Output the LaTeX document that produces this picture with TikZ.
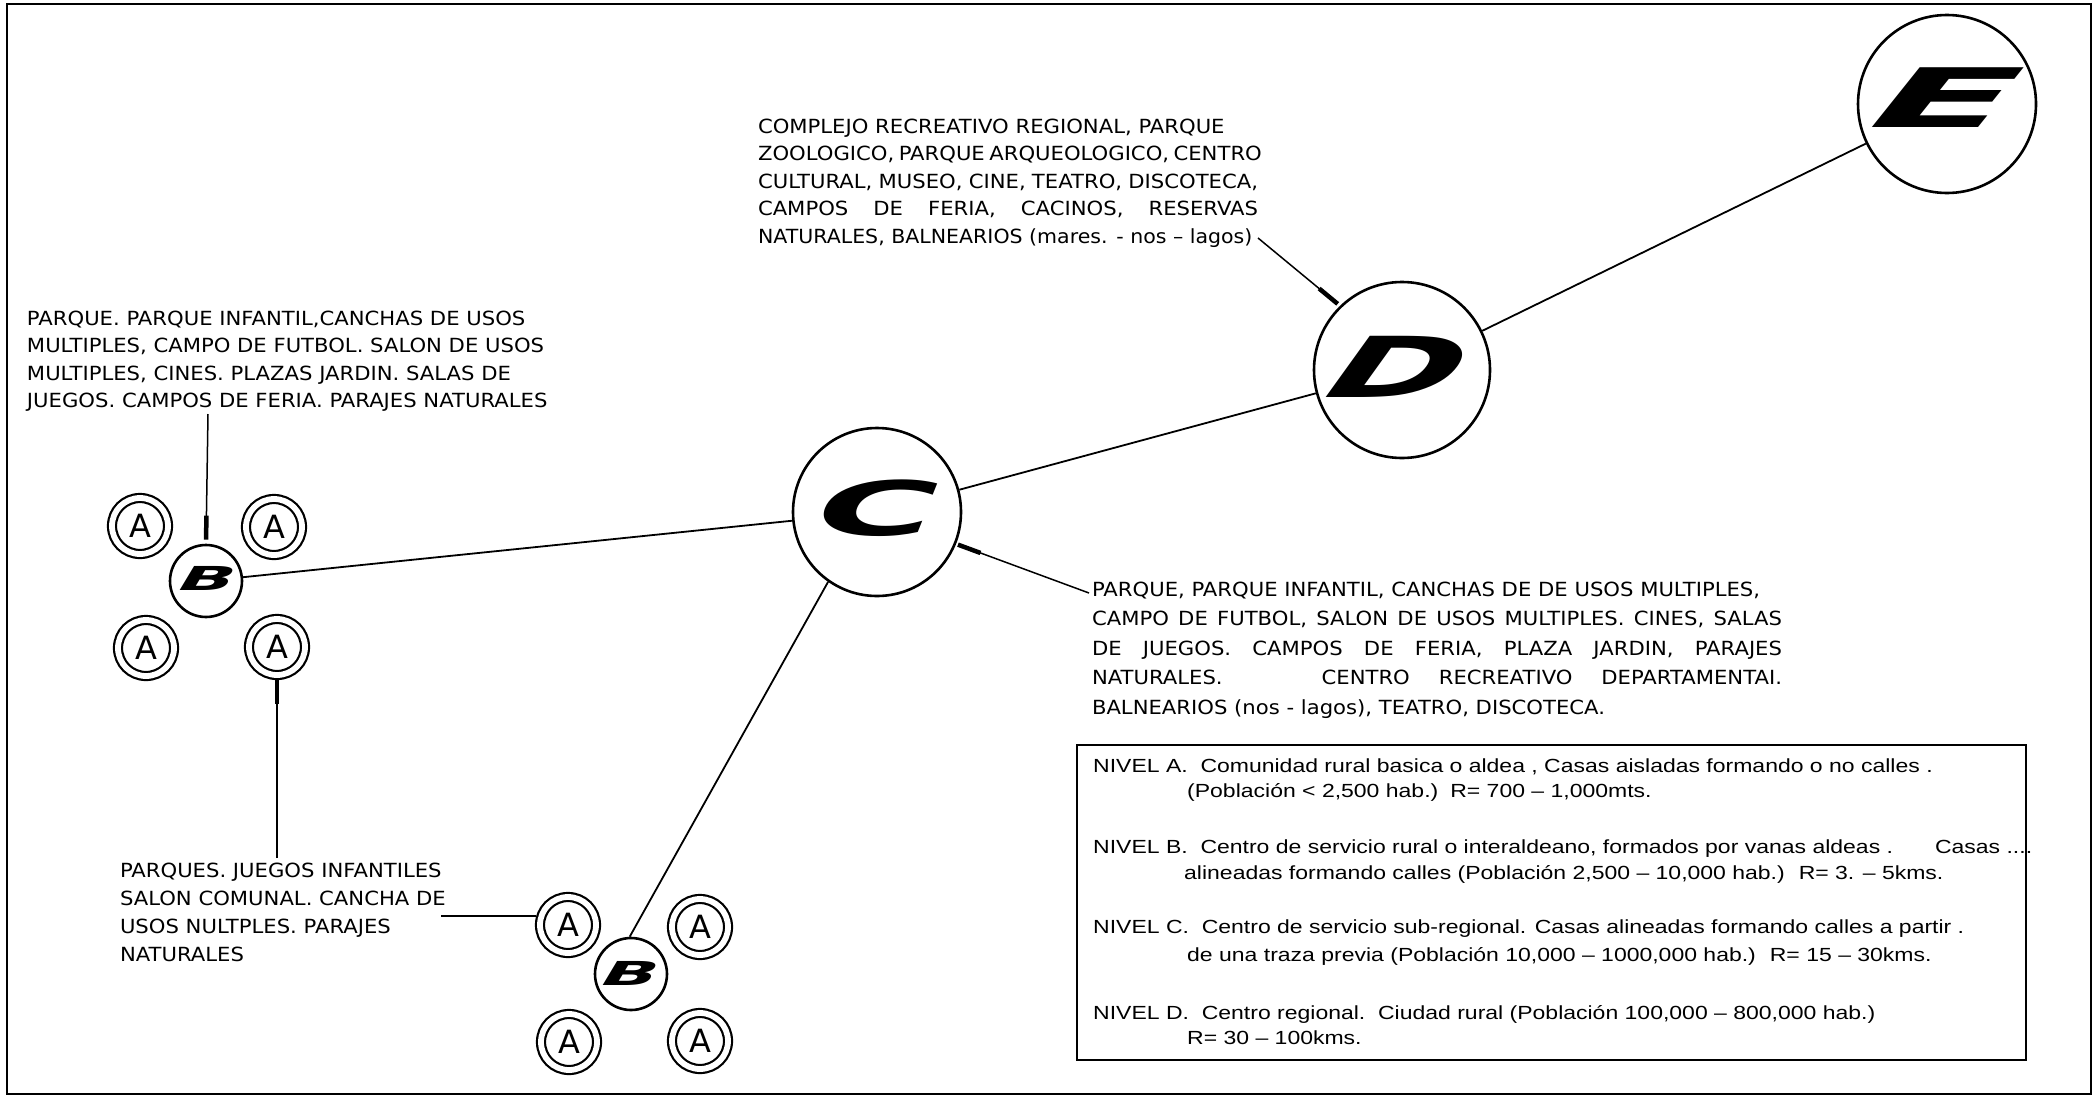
\documentclass[tikz,border=0pt]{standalone}
\usepackage{fontspec}
\setmainfont[FakeStretch=1.085]{DejaVu Sans}
\newfontfamily\legendfont[FakeStretch=1.21]{Liberation Sans}
\newfontfamily\letterfont{DejaVu Sans}
\newfontfamily\afont{DejaVu Sans}
\usetikzlibrary{arrows.meta}
\begin{document}
\begin{tikzpicture}[x=1pt,y=-1pt,
  capsnote/.style={font=\fontsize{19.5}{27.5}\selectfont, anchor=north west, inner sep=0pt, outer sep=0pt},
  hub/.style={circle, draw, line width=2.6pt, inner sep=0pt},
  bigletter/.style={inner sep=0pt, font=\letterfont\bfseries\fontsize{#1}{#1}\selectfont},
  acirc/.style={circle, draw, line width=2.2pt, double distance=5.8pt, minimum size=56pt, inner sep=0pt, outer sep=5pt, font=\afont\fontsize{32}{32}\selectfont},
  link/.style={line width=1.8pt},
  leader/.style={line width=1.5pt, -{Rectangle[length=24pt,width=4.5pt]}},
  legendline/.style={font=\legendfont\fontsize{19}{22}\selectfont, anchor=base west, inner sep=0pt},
]
\useasboundingbox (0,0) rectangle (2096,1098);
\draw[line width=2pt] (7,4) rectangle (2091,1094);

% hubs
\node[hub, minimum size=168pt] (C) at (877,512) {};
\node[hub, minimum size=176pt] (D) at (1402,370) {};
\node[hub, minimum size=178pt] (E) at (1947,104) {};
\node[hub, minimum size=72pt] (B1) at (206,581) {};
\node[hub, minimum size=72pt] (B2) at (631,974) {};

\node[bigletter=75, xslant=0.4, xscale=2.2] (Cl) at (878,508) {C};
\node[bigletter=84, xslant=0.72, xscale=1.9] (Dl) at (1400,367) {D};
\node[bigletter=82, xslant=0.8, xscale=2.5] (El) at (1947,98) {E};
\node[bigletter=33, xslant=0.6, xscale=2.2] (B1l) at (208,578) {B};
\node[bigletter=33, xslant=0.6, xscale=2.2] (B2l) at (631,973) {B};

% A circles
\node[acirc] (A1) at (140,526) {A};
\node[acirc] (A2) at (274,527) {A};
\node[acirc] (A3) at (146,648) {A};
\node[acirc] (A4) at (277,647) {A};
\node[acirc] (A5) at (568,925) {A};
\node[acirc] (A6) at (700,927) {A};
\node[acirc] (A7) at (569,1042) {A};
\node[acirc] (A8) at (700,1041) {A};

% links
\draw[link] (B1) -- (C);
\draw[link] (B2.92) -- (C.235);
\draw[link] (C) -- (D);
\draw[link] (D) -- (E);

% notes
\node[capsnote, align=left] (tD) at (758,119)
 {COMPLEJO RECREATIVO REGIONAL, PARQUE\\
  \makebox[500pt][s]{ZOOLOGICO, PARQUE ARQUEOLOGICO, CENTRO}\\
  \makebox[500pt][s]{CULTURAL, MUSEO, CINE, TEATRO, DISCOTECA,}\\
  \makebox[500pt][s]{CAMPOS DE FERIA, CACINOS, RESERVAS}\\
  \scalebox{0.97}[1]{NATURALES, BALNEARIOS (mares. - nos – lagos)}};

\node[capsnote, align=left] (tB) at (27,311)
 {PARQUE. PARQUE INFANTIL,CANCHAS DE USOS\\
  MULTIPLES, CAMPO DE FUTBOL. SALON DE USOS\\
  MULTIPLES, CINES. PLAZAS JARDIN. SALAS DE\\
  JUEGOS. CAMPOS DE FERIA. PARAJES NATURALES};

\node[capsnote, align=left, font=\fontsize{19.5}{29.5}\selectfont] (tC) at (1092,582)
 {PARQUE, PARQUE INFANTIL, CANCHAS DE DE USOS MULTIPLES,\\
  \makebox[690pt][s]{CAMPO DE FUTBOL, SALON DE USOS MULTIPLES. CINES, SALAS}\\
  \makebox[690pt][s]{DE JUEGOS. CAMPOS DE FERIA, PLAZA JARDIN, PARAJES}\\
  \makebox[690pt][s]{NATURALES.\hspace{70pt} CENTRO RECREATIVO DEPARTAMENTAI.}\\
  BALNEARIOS (nos - lagos), TEATRO, DISCOTECA.};

\node[capsnote, align=left, font=\fontsize{19.5}{28}\selectfont] (tA) at (120,863)
 {PARQUES. JUEGOS INFANTILES\\
  SALON COMUNAL. CANCHA DE\\
  USOS NULTPLES. PARAJES\\
  NATURALES};

% leaders
\coordinate (tDend) at (1258,238);
\coordinate (tCend) at (1089,593);
\coordinate (tBend) at (208,414);
\coordinate (tAup) at (277,858);
\coordinate (tAlow) at (441,916);
\draw[leader, shorten >=3pt] (tDend) -- (D.134);
\draw[leader, shorten >=2pt] (tCend) -- (C.-22);
\draw[leader, shorten >=4pt] (tBend) -- (B1.north);
\draw[leader] (tAup) -- (A4.south);
\draw[link] (tAlow) -- (A5.164);

% legend
\draw[line width=1.6pt] (1077,745) rectangle (2026,1060);
\node[legendline] (lA1) at (1093,772) {NIVEL A.\ \ Comunidad rural basica o aldea , Casas aisladas formando o no calles .};
\node[legendline] (lA2) at (1187,797) {(Población < 2,500 hab.)\hspace{12pt}R= 700 – 1,000mts.};
\node[legendline] (lB1) at (1093,853) {NIVEL B.\ \ Centro de servicio rural o interaldeano, formados por vanas aldeas .\hspace{42pt}Casas ....};
\node[legendline] (lB2) at (1184,879) {alineadas formando calles (Población 2,500 – 10,000 hab.)\hspace{14pt}R= 3. – 5kms.};
\node[legendline] (lC1) at (1093,933) {NIVEL C.\ \ Centro de servicio sub-regional. Casas alineadas formando calles a partir .};
\node[legendline] (lC2) at (1187,961) {de una traza previa (Población 10,000 – 1000,000 hab.)\hspace{14pt}R= 15 – 30kms.};
\node[legendline] (lD1) at (1093,1019) {NIVEL D.\ \ Centro regional.\ \ Ciudad rural (Población 100,000 – 800,000 hab.)};
\node[legendline] (lD2) at (1187,1044) {R= 30 – 100kms.};
\end{tikzpicture}
\end{document}
